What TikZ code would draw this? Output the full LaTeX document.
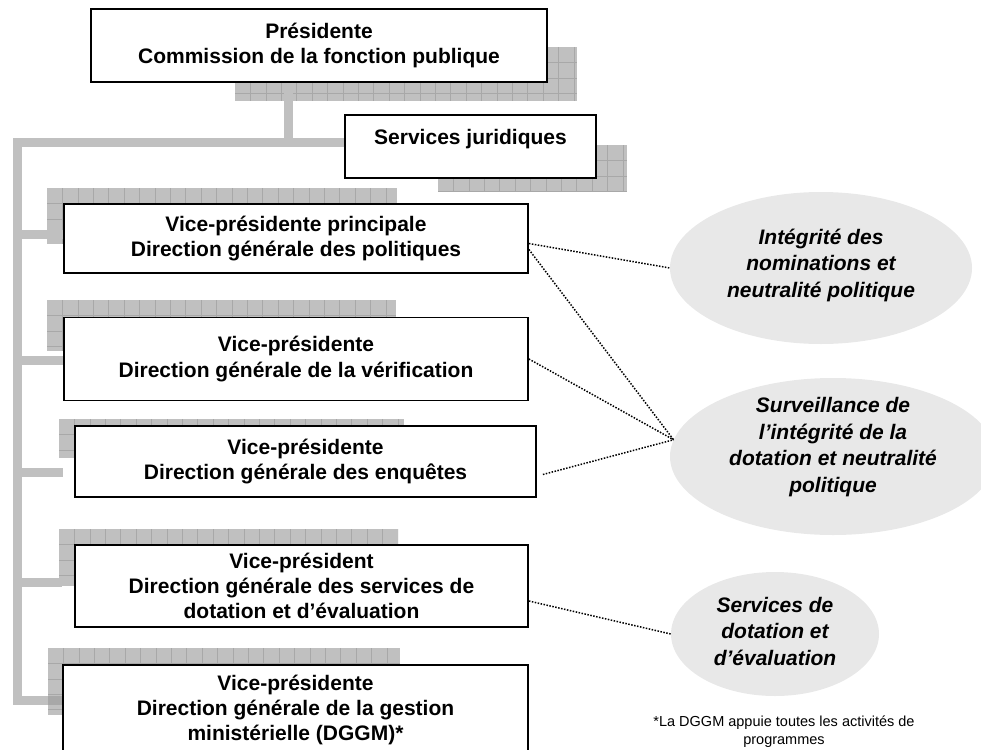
\documentclass[tikz,border=0pt]{standalone}
\usepackage{fontspec}
\setmainfont{Liberation Sans}
\usetikzlibrary{shapes.geometric}

\definecolor{patchgray}{RGB}{192,192,192}
\definecolor{patchline}{RGB}{168,168,168}
\definecolor{goalgray}{RGB}{232,232,232}

% Grey squared patch: corners (x1,y1) and (x2,y2)
\newcommand{\gridpatch}[4]{%
  \begin{scope}
    \clip (#1,#2) rectangle (#3,#4);
    \fill[patchgray] (#1,#2) rectangle (#3,#4);
    \foreach \i in {1,...,24}
      \draw[patchline, line width=0.5pt] ({#1+\i*15.4},#2) -- ({#1+\i*15.4},#4);
    \foreach \j in {1,...,4}
      \draw[patchline, line width=0.5pt] (#1,{#2+\j*15.4}) -- (#3,{#2+\j*15.4});
  \end{scope}}

\begin{document}
\begin{tikzpicture}[x=1pt, y=-1pt,
    post/.style={draw, line width=1.8pt, fill=white, inner sep=0pt, align=center,
      font=\fontsize{21}{25.2}\selectfont\bfseries},
    goal/.style={ellipse, fill=goalgray, inner sep=0pt},
    goaltext/.style={align=center, font=\fontsize{21}{26.5}\selectfont\bfseries\itshape},
    note/.style={align=center, font=\fontsize{14.5}{18}\selectfont},
    bus/.style={draw=patchgray, line width=9pt},
    link/.style={line width=1.5pt, dash pattern=on 1.5pt off 1.5pt}]

  \useasboundingbox (0,0) rectangle (981,749);

  % Squared patches behind the boxes
  \gridpatch{235}{47}{577}{101}
  \gridpatch{438}{145}{627}{191}
  \gridpatch{47}{188}{397}{244}
  \gridpatch{47}{300}{396}{351}
  \gridpatch{59}{419}{404}{458}
  \gridpatch{59}{529}{398}{586}
  \gridpatch{48}{648}{400}{715}

  % Boxes
  \node[post, minimum width=456pt, minimum height=73pt] (pres) at (319,45.5)
    {Présidente\\Commission de la fonction publique};
  \node[post, minimum width=251pt, minimum height=63pt] (jur) at (470.5,146.5)
    {Services juridiques\\[-6pt]\mbox{}};
  \node[post, minimum width=464pt, minimum height=69pt] (vp1) at (296,238.5)
    {Vice-présidente principale\\Direction générale des politiques};
  \node[post, minimum width=464pt, minimum height=83pt] (vp2) at (296,359)
    {Vice-présidente\\Direction générale de la vérification};
  \node[post, minimum width=461pt, minimum height=71pt] (vp3) at (305.5,461.5)
    {Vice-présidente\\Direction générale des enquêtes};
  \node[post, minimum width=453pt, minimum height=82pt] (vp4) at (301.5,586)
    {Vice-président\\Direction générale des services de\\dotation et d’évaluation};
  \node[post, minimum width=465pt, minimum height=90pt] (dggm) at (295.5,710)
    {Vice-présidente\\Direction générale de la gestion\\ministérielle (DGGM)*};

  % Grey connectors
  \coordinate (stem) at (288,142);
  \coordinate (trunk) at (17,142);
  \coordinate (foot) at (17,700);
  \draw[bus] (stem |- pres.south) -- (stem);
  \draw[bus] (jur.west |- trunk) -- (trunk) -- (foot) -- (foot -| 48,0);
  \draw[bus, draw=patchline] (foot -| 48,0) -- (foot -| dggm.west);
  \foreach \name/\dx/\dy in {vp1/0/4.5, vp2/0/-1, vp3/-11/-10.5, vp4/-12/3.5} {
    \path ([xshift=\dx pt, yshift=\dy pt]\name.west) coordinate (b\name);
    \draw[bus] (trunk |- b\name) -- (b\name);
  }

  % Program ellipses
  \node[goal, minimum width=302pt, minimum height=152pt,
    label={[goaltext, yshift=3pt]center:{Intégrité des\\nominations et\\neutralité politique}}]
    (e1) at (821,268) {};
  \node[goal, minimum width=326pt, minimum height=157pt,
    label={[goaltext, yshift=9.5pt]center:{Surveillance de\\l’intégrité de la\\dotation et neutralité\\politique}}]
    (e2) at (833,456.5) {};
  \node[goal, minimum width=208pt, minimum height=124pt,
    label={[goaltext, yshift=3pt]center:{Services de\\dotation et\\d’évaluation}}]
    (e3) at (775,634) {};

  % Dotted links
  \draw[link] ([yshift=-5pt]vp1.east) -- (e1.west);
  \draw[link] ([yshift=-11pt]vp1.east) -- (e2.174);
  \draw[link] (vp2.east) -- (e2.174);
  \draw[link] ([xshift=6pt, yshift=-13pt]vp3.east) -- (e2.174);
  \draw[link] ([yshift=-15pt]vp4.east) -- (e3.west);

  % Footnote
  \node[note] (fn) at (784,732) {*La DGGM appuie toutes les activités de\\programmes};
\end{tikzpicture}
\end{document}
